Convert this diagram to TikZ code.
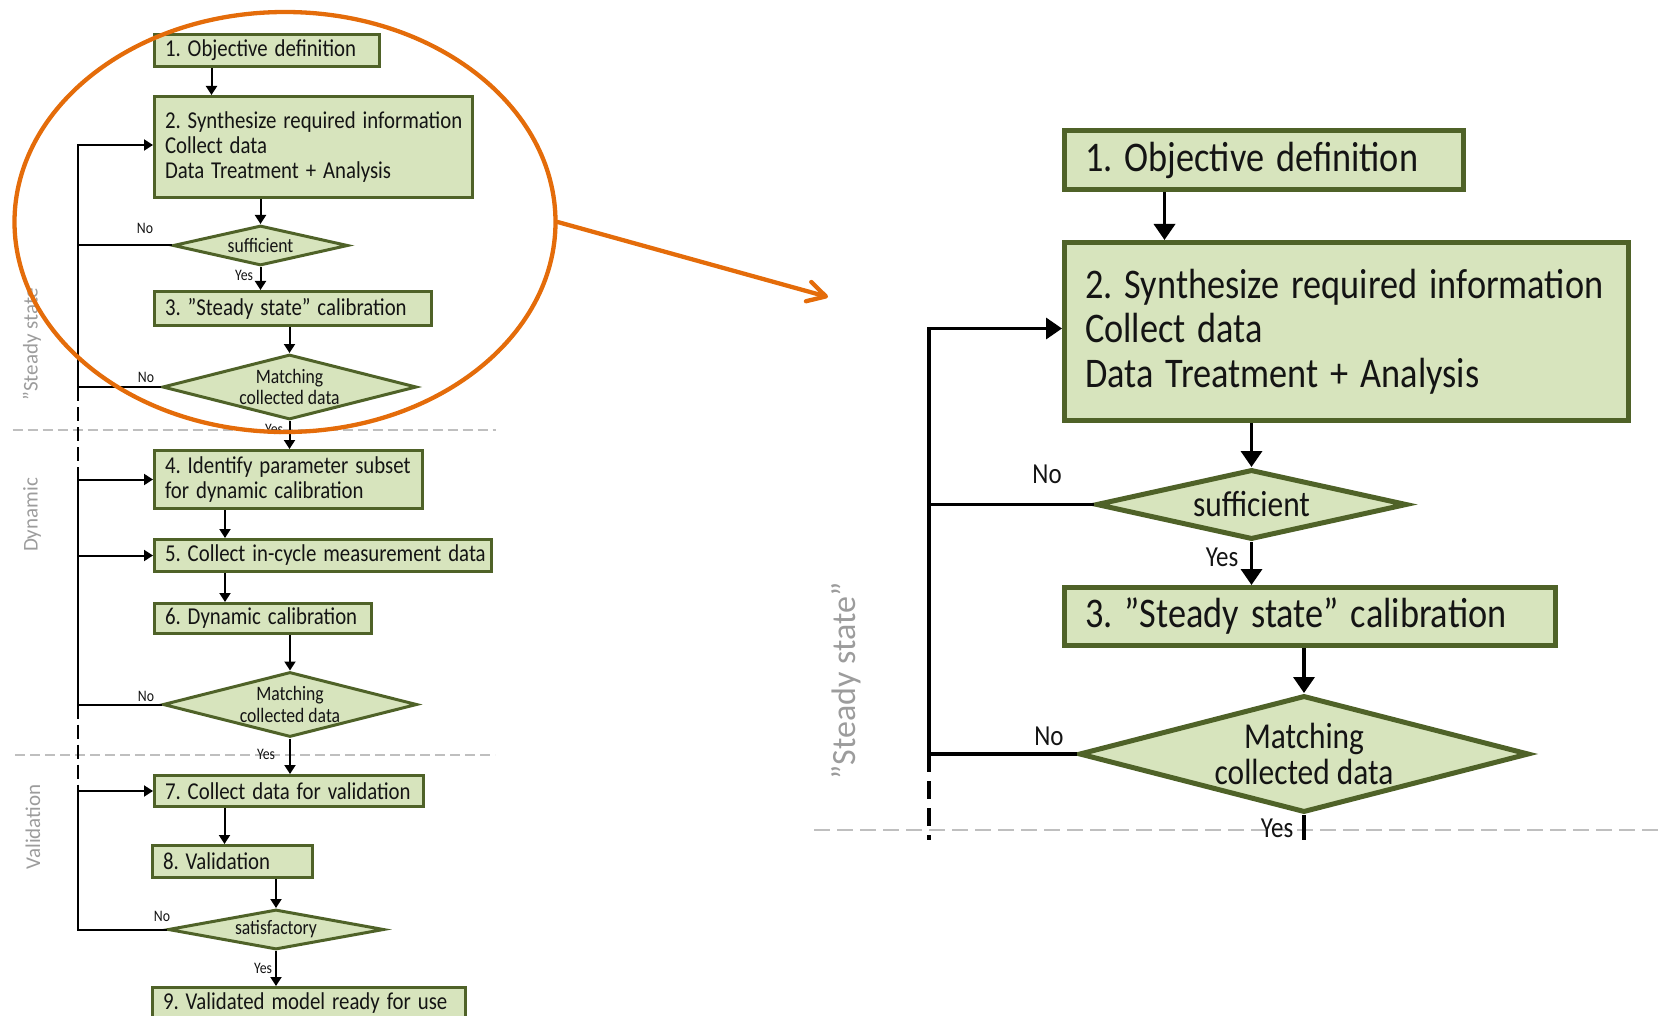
\documentclass[tikz,border=0pt]{standalone}
\usepackage{fontspec}
\usepackage{graphicx}
\usetikzlibrary{arrows.meta,shapes.geometric,calc}
\newfontfamily\bxfont[WordSpace=0.75]{Carlito}
\newfontfamily\lbfont{Carlito}
\newcommand\cnd[1]{\scalebox{0.86}[1]{#1}}
\definecolor{boxfill}{HTML}{D7E4BD}
\definecolor{boxline}{HTML}{4F6228}
\definecolor{zoomorange}{HTML}{E46C0A}
\definecolor{phasegray}{HTML}{9C9C9C}
\definecolor{sepgray}{HTML}{BFBFBF}
\definecolor{txt}{HTML}{141414}
\frenchspacing
\begin{document}
\begin{tikzpicture}[x=1pt,y=-1pt,
 lbox/.style={draw=boxline, fill=boxfill, line width=3pt, inner xsep=10.5pt, inner ysep=0pt, align=left, text=txt, font=\bxfont\fontsize{24.2}{25.3}\selectfont},
 rbox/.style={draw=boxline, fill=boxfill, line width=5pt, inner xsep=20.5pt, inner ysep=0pt, align=left, text=txt, font=\bxfont\fontsize{42.2}{44.5}\selectfont},
 ldia/.style={diamond, draw=boxline, fill=boxfill, line width=3pt, inner sep=0pt, align=center, text=txt, font=\bxfont\fontsize{20.5}{21.7}\selectfont},
 rdia/.style={diamond, draw=boxline, fill=boxfill, line width=5pt, inner sep=0pt, align=center, text=txt, font=\bxfont\fontsize{36.5}{36.7}\selectfont},
 larr/.style={line width=2pt, -{Triangle[length=9pt,width=11pt]}},
 rarr/.style={line width=3.5pt, -{Triangle[length=16pt,width=21pt]}},
 lline/.style={line width=2pt},
 rline/.style={line width=3.5pt},
 lsmall/.style={font=\bxfont\fontsize{16}{16}\selectfont, text=txt, inner sep=0pt},
 rsmall/.style={font=\bxfont\fontsize{29}{29}\selectfont, text=txt, inner sep=0pt},
 lphase/.style={rotate=90, font=\lbfont\fontsize{21}{21}\selectfont, text=phasegray, inner sep=0pt},
 rphase/.style={rotate=90, font=\lbfont\fontsize{34}{34}\selectfont, text=phasegray, inner sep=0pt},
 lsep/.style={draw=sepgray, line width=1.5pt, dash pattern=on 10pt off 5pt},
 rsep/.style={draw=sepgray, line width=2pt, dash pattern=on 16pt off 7pt},
 ldash/.style={line width=2pt, dash pattern=on 14pt off 6pt},
 rdash/.style={line width=3.5pt, dash pattern=on 18pt off 9pt},
]
\useasboundingbox (0,0) rectangle (1659,1016);

% separators
\draw[lsep] (12.5,430) -- (496,430);
\draw[lsep] (15,755) -- (495,755);
\draw[rsep] (814,830) -- (1659,830);

% phase labels
\node[lphase] (ph1) at (32,344) {”Steady state};
\node[lphase] (ph2) at (32,515) {Dynamic};
\node[lphase] (ph3) at (33,827) {Validation};
\node[rphase] (ph4) at (846,681) {”Steady state”};

% left flowchart
\node[lbox, minimum width=225pt, minimum height=32pt, text width=204pt] (b1) at (267,50.5) {\cnd{1. Objective definition}};
\node[lbox, minimum width=318pt, minimum height=101pt, text width=297pt] (b2) at (313.5,147) {\cnd{2. Synthesize required information}\\\cnd{Collect data}\\\cnd{Data Treatment + Analysis}};
\node[ldia, minimum width=175pt, minimum height=40pt, shape aspect=4.3] (d1) at (260.5,245.5) {\cnd{sufficient}};
\node[lbox, minimum width=277pt, minimum height=34pt, text width=256pt] (b3) at (293,308.5) {\cnd{3. ”Steady state” calibration}};
\node[ldia, minimum width=254pt, minimum height=65pt, shape aspect=3.9] (m1) at (289.5,387) {\cnd{Matching}\\\cnd{collected data}};
\node[lbox, minimum width=268pt, minimum height=58pt, text width=247pt] (b4) at (288.5,479.5) {\cnd{4. Identify parameter subset}\\\cnd{for dynamic calibration}};
\node[lbox, minimum width=337pt, minimum height=32pt, text width=316pt] (b5) at (323,555.5) {\cnd{5. Collect in-cycle measurement data}};
\node[lbox, minimum width=217pt, minimum height=30pt, text width=196pt] (b6) at (263,618.5) {\cnd{6. Dynamic calibration}};
\node[ldia, minimum width=254pt, minimum height=65pt, shape aspect=3.9] (m2) at (290,704.5) {\cnd{Matching}\\\cnd{collected data}};
\node[lbox, minimum width=269pt, minimum height=31pt, text width=248pt] (b7) at (289,791) {\cnd{7. Collect data for validation}};
\node[lbox, minimum width=160pt, minimum height=32pt, text width=139pt] (b8) at (232.5,861.5) {\cnd{8. Validation}};
\node[ldia, minimum width=216pt, minimum height=40pt, shape aspect=5.4] (sat) at (276,929.5) {\cnd{satisfactory}};
\node[lbox, minimum width=313pt, minimum height=32pt, text width=292pt] (b9) at (309,1003.5) {\cnd{9. Validated model ready for use}};

% left arrows
\draw[larr] ([xshift=58.5pt]b1.south west) -- ([xshift=58.5pt]b1.south west |- b2.north);
\draw[larr] (b2.south -| d1.north) -- (d1.north);
\draw[larr] (d1.south) -- (d1.south |- b3.north);
\draw[larr] (b3.south -| m1.north) -- (m1.north);
\draw[larr] (m1.south) -- (m1.south |- b4.north);
\draw[larr] ([xshift=72pt]b4.south west) -- ([xshift=72pt]b4.south west |- b5.north);
\draw[larr] ([xshift=72pt]b5.south west) -- ([xshift=72pt]b5.south west |- b6.north);
\draw[larr] (b6.south -| m2.north) -- (m2.north);
\draw[larr] (m2.south) -- (m2.south |- b7.north);
\draw[larr] ([xshift=71.5pt]b7.south west) -- ([xshift=71.5pt]b7.south west |- b8.north);
\draw[larr] (b8.south -| sat.north) -- (sat.north);
\draw[larr] (sat.south) -- (sat.south |- b9.north);

% left loops
\coordinate (llx) at (77.5,0);
\draw[lline] (d1.west) -- (d1.west -| llx);
\draw[larr] (m1.west) -- (m1.west -| llx) -- ([yshift=2pt]b2.west -| llx) -- ([yshift=2pt]b2.west);
\draw[ldash] (m1.west -| llx) -- (b4.west -| llx);
\draw[larr] (m2.west) -- (m2.west -| llx) -- (b4.west -| llx) -- (b4.west);
\draw[larr] (b5.west -| llx) -- (b5.west);
\draw[ldash] (m2.west -| llx) -- (b7.west -| llx);
\draw[larr] (sat.west) -- (sat.west -| llx) -- (b7.west -| llx) -- (b7.west);

% left yes/no
\node[lsmall] (no1) at (145,228) {\cnd{No}};
\node[lsmall] (yes1) at (244,275) {\cnd{Yes}};
\node[lsmall] (no2) at (146,377) {\cnd{No}};
\node[lsmall] (yes2) at (274,429) {\cnd{Yes}};
\node[lsmall] (no3) at (146,696) {\cnd{No}};
\node[lsmall] (yes3) at (266,754) {\cnd{Yes}};
\node[lsmall] (no4) at (162,916) {\cnd{No}};
\node[lsmall] (yes4) at (263,968) {\cnd{Yes}};

% right zoomed flowchart
\node[rbox, minimum width=399pt, minimum height=59pt, text width=358pt] (r1) at (1264,160) {\cnd{1. Objective definition}};
\node[rbox, minimum width=564pt, minimum height=178pt, text width=523pt] (r2) at (1346.5,331.5) {\cnd{2. Synthesize required information}\\\cnd{Collect data}\\\cnd{Data Treatment + Analysis}};
\node[rdia, minimum width=311pt, minimum height=70pt, shape aspect=4.4] (rs) at (1251.5,504.5) {\cnd{sufficient}};
\node[rbox, minimum width=491pt, minimum height=58pt, text width=450pt] (r3) at (1310,616.5) {\cnd{3. ”Steady state” calibration}};
\node[rdia, minimum width=450pt, minimum height=117pt, shape aspect=3.85] (rm) at (1304,754) {\cnd{Matching}\\\cnd{collected data}};

\draw[rarr] ([xshift=102.5pt]r1.south west) -- ([xshift=102.5pt]r1.south west |- r2.north);
\draw[rarr] (r2.south -| rs.north) -- (rs.north);
\draw[rarr] (rs.south) -- (rs.south |- r3.north);
\draw[rarr] (r3.south -| rm.north) -- (rm.north);
\coordinate (rlx) at (929,840);
\draw[rline] (rs.west) -- (rs.west -| rlx);
\draw[rarr] (rm.west) -- (rm.west -| rlx) -- ([yshift=3pt]r2.west -| rlx) -- ([yshift=3pt]r2.west);
\draw[rdash] (rm.west -| rlx) -- (rlx);
\draw[rline] (rm.south) -- (rm.south |- rlx);

\node[rsmall] (rno1) at (1047,474) {\cnd{No}};
\node[rsmall] (ryes1) at (1222,557) {\cnd{Yes}};
\node[rsmall] (rno2) at (1049,736) {\cnd{No}};
\node[rsmall] (ryes2) at (1277,828) {\cnd{Yes}};

% orange zoom callout
\node[ellipse, draw=zoomorange, line width=4.3pt, minimum width=541pt, minimum height=420pt, inner sep=0pt] (ell) at (285,222) {};
\coordinate (ztip) at (828,297);
\draw[zoomorange, line width=4.3pt, line cap=round, -{Straight Barb[length=18pt,width=20pt,line cap=round,line join=round]}] (ell.east) -- (ztip);
\end{tikzpicture}
\end{document}
